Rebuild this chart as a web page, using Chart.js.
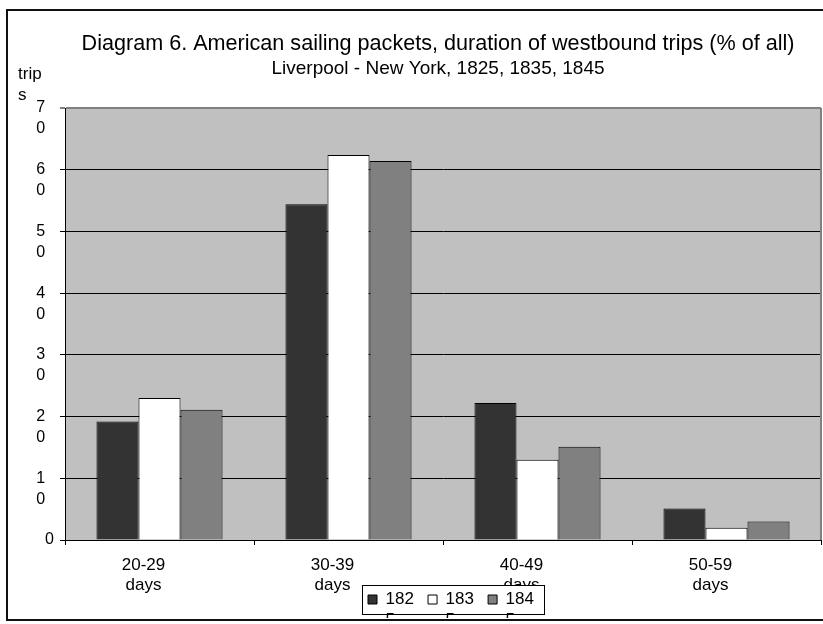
<!DOCTYPE html>
<html>
<head>
<meta charset="utf-8">
<title>American sailing packets, westbound trips</title>
<style>
  html, body { margin: 0; padding: 0; background: #fff; }
  canvas { display: block; }
</style>
<script src="https://cdn.jsdelivr.net/npm/chart.js@4.4.1/dist/chart.umd.min.js"></script>
</head>
<body>
<canvas id="chart" width="823" height="624"></canvas>
<script>
// Duration of westbound crossings, share of all trips (%)
const categories = ['20-29 days', '30-39 days', '40-49 days', '50-59 days'];
const seriesYears = ['1825', '1835', '1845'];
const trips1825 = [19.2, 54.4, 22.2, 5.1];
const trips1835 = [23.0, 62.4, 13.0, 2.0];
const trips1845 = [21.1, 61.4, 15.1, 3.0];
const yMax = 70;
const yStep = 10;

const titleText = 'Diagram 6. American sailing packets, duration of westbound trips (% of all)';
const subtitleText = 'Liverpool - New York, 1825, 1835, 1845';
const yAxisTitle = ['trip', 's'];

const seriesValues = [trips1825, trips1835, trips1845];
const seriesFill = ['#333333', '#ffffff', '#808080'];

// layout constants
const PAD_LEFT = 55;
const PLOT_LEFT = 65, PLOT_BOTTOM = 540;
const LEGEND_FRAME = { x: 362, y: 585, w: 182, h: 29 };

Chart.defaults.font.family = '"Liberation Sans", Arial, Helvetica, sans-serif';
Chart.defaults.color = '#000';

const chartDecor = {
  id: 'chartDecor',
  afterInit(chart) {
    const lg = chart.legend;
    if (lg && !lg._framed) {
      const base = lg.draw;
      // white boxed legend laid over the category labels
      lg.draw = function (area) {
        const c = chart.ctx;
        c.save();
        c.fillStyle = '#fff';
        c.fillRect(LEGEND_FRAME.x, LEGEND_FRAME.y, LEGEND_FRAME.w, LEGEND_FRAME.h);
        c.strokeStyle = '#000';
        c.lineWidth = 1;
        c.strokeRect(LEGEND_FRAME.x + 0.5, LEGEND_FRAME.y + 0.5, LEGEND_FRAME.w, LEGEND_FRAME.h);
        c.restore();
        return base.call(this, area);
      };
      lg._framed = true;
    }
  },
  afterLayout(chart) {
    // let the value labels use the whole left margin
    const ys = chart.scales.y;
    ys.left = 0;
    ys.width = ys.right;
    const lg = chart.legend;
    if (!lg || !lg.lineWidths) return;
    const start = (lg.left + lg.right - lg.lineWidths[0]) / 2;
    const dx = LEGEND_FRAME.x + 6 - start;
    lg.left += dx;
    lg.right += dx;
    const h = lg.height;
    lg.top = LEGEND_FRAME.y + LEGEND_FRAME.h / 2 - 8.5;
    lg.bottom = lg.top + h;
  },
  beforeDraw(chart) {
    const { ctx, chartArea: a } = chart;
    ctx.save();
    ctx.fillStyle = '#fff';
    ctx.fillRect(0, 0, chart.width, chart.height);
    ctx.fillStyle = '#c0c0c0';
    ctx.fillRect(a.left, a.top, a.right - a.left, a.bottom - a.top);
    ctx.restore();
  },
  afterDraw(chart) {
    const { ctx, chartArea: a } = chart;
    ctx.save();
    // plot area edge on the right
    ctx.strokeStyle = '#808080';
    ctx.lineWidth = 2;
    ctx.beginPath();
    ctx.moveTo(a.right, a.top);
    ctx.lineTo(a.right, a.bottom);
    ctx.stroke();
    // axis caption above the value axis
    ctx.fillStyle = '#000';
    ctx.font = '17px "Liberation Sans", Arial, sans-serif';
    ctx.textAlign = 'left';
    ctx.textBaseline = 'alphabetic';
    ctx.fillText(yAxisTitle[0], 18, 79);
    ctx.fillText(yAxisTitle[1], 18, 100);
    // outer frame (its right side runs past the canvas edge)
    ctx.strokeStyle = '#111';
    ctx.lineWidth = 2;
    ctx.strokeRect(7, 10, 830, 610);
    ctx.restore();
  }
};

new Chart(document.getElementById('chart'), {
  type: 'bar',
  data: {
    labels: categories.map(c => c.split(' ')),
    datasets: seriesYears.map((year, i) => ({
      label: year,
      data: seriesValues[i],
      backgroundColor: seriesFill[i],
      borderColor: '#000',
      borderWidth: 1,
      categoryPercentage: 0.667,
      barPercentage: 1.0
    }))
  },
  options: {
    responsive: false,
    animation: false,
    devicePixelRatio: 1,
    layout: { padding: { left: PAD_LEFT, right: 2, top: 0, bottom: 0 } },
    plugins: {
      title: {
        display: true,
        text: titleText,
        font: { size: 21.6, weight: 'normal' },
        color: '#000',
        padding: { top: 31, bottom: 0 }
      },
      subtitle: {
        display: true,
        text: subtitleText,
        font: { size: 19, weight: 'normal' },
        color: '#000',
        padding: { top: 0.5, bottom: 27.8 }
      },
      legend: {
        display: true,
        position: 'bottom',
        labels: {
          boxWidth: 9,
          boxHeight: 9,
          padding: 0,
          color: '#000',
          font: { size: 17, lineHeight: 21 / 17 },
          generateLabels(chart) {
            const items = Chart.defaults.plugins.legend.labels.generateLabels(chart);
            return items.map(it => Object.assign(it, {
              text: [it.text.slice(0, 3), it.text.slice(3)],
              lineWidth: 1,
              strokeStyle: '#000'
            }));
          }
        }
      },
      tooltip: { enabled: false }
    },
    scales: {
      x: {
        grid: { display: true, drawOnChartArea: false, drawTicks: true, tickLength: 5, color: '#000', offset: true },
        border: { display: true, color: '#000', width: 1 },
        ticks: {
          padding: 10,
          labelOffset: -16,
          maxRotation: 0,
          autoSkip: false,
          color: '#000',
          z: -1,
          font: { size: 17, lineHeight: 20 / 17 }
        },
        afterFit(s) {
          const lgH = s.chart.legend ? s.chart.legend.height : 0;
          s.height = s.chart.height - PLOT_BOTTOM - lgH;
        }
      },
      y: {
        min: 0,
        max: yMax,
        grid: {
          color: c => (c.tick && c.tick.value === yMax ? '#808080' : '#000'),
          lineWidth: c => (c.tick && c.tick.value === yMax ? 2 : 1),
          tickLength: 5,
          drawTicks: true
        },
        border: { display: true, color: '#000', width: 1 },
        ticks: {
          stepSize: yStep,
          padding: 6,
          labelOffset: 10.5,
          color: '#000',
          font: { size: 16, lineHeight: 21 / 16 },
          callback(v) {
            const digits = String(v).split('');
            return digits.length > 1 ? digits.map(d => d + '  ') : [digits[0], ''];
          }
        },
        afterFit(s) { s.width = PLOT_LEFT - PAD_LEFT; }
      }
    }
  },
  plugins: [chartDecor]
});
</script>
</body>
</html>
